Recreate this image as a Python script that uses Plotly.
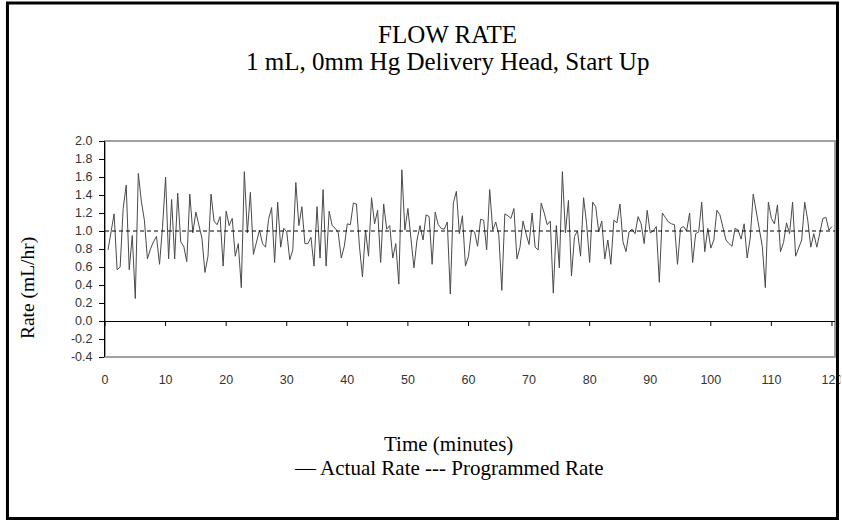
import plotly.graph_objects as go

# Flow rate readings, one every half minute (mL/hr)
actual_rate = [
    0.79, 0.97, 1.19, 0.57, 0.60, 1.25, 1.51, 0.57, 0.95, 0.25, 1.64, 1.33, 1.12, 0.69, 0.80, 0.88, 0.94, 0.63, 1.05, 1.60,
    0.69, 1.35, 0.69, 1.42, 0.88, 0.83, 0.66, 1.41, 0.98, 1.21, 1.08, 0.92, 0.54, 0.72, 1.41, 1.11, 1.07, 1.16, 0.61, 1.22,
    1.06, 1.14, 0.72, 0.86, 0.37, 1.66, 0.98, 1.43, 0.74, 0.87, 1.01, 0.86, 0.82, 1.13, 1.26, 0.65, 1.32, 0.82, 1.03, 0.99,
    0.68, 0.79, 1.54, 1.06, 1.27, 0.86, 0.86, 0.93, 0.61, 1.27, 0.70, 1.46, 0.61, 1.22, 1.06, 1.03, 0.98, 0.70, 0.83, 1.08,
    1.07, 1.31, 1.30, 0.83, 0.49, 1.01, 0.72, 1.37, 1.08, 1.23, 0.65, 1.30, 1.02, 1.06, 0.70, 0.86, 0.41, 1.68, 1.01, 1.25,
    0.94, 0.59, 0.90, 1.06, 0.90, 1.18, 1.16, 0.63, 1.21, 1.07, 1.03, 1.02, 1.10, 0.30, 1.31, 1.44, 0.97, 1.17, 0.61, 0.72,
    1.01, 0.99, 0.83, 1.13, 1.12, 0.79, 1.46, 1.01, 1.10, 0.96, 0.34, 1.19, 1.17, 1.14, 1.25, 0.69, 0.82, 1.11, 0.97, 0.85,
    1.20, 0.82, 0.79, 1.31, 1.20, 1.07, 1.11, 0.31, 1.06, 0.59, 1.66, 0.98, 1.34, 0.50, 0.94, 1.00, 0.72, 1.37, 1.08, 0.65,
    1.32, 1.27, 0.99, 1.11, 0.69, 0.90, 0.63, 1.12, 1.09, 1.30, 0.88, 0.77, 0.99, 1.02, 0.97, 1.16, 1.08, 0.86, 1.23, 0.98,
    1.00, 1.05, 0.43, 1.20, 1.15, 1.10, 1.08, 1.07, 0.63, 1.03, 1.05, 1.00, 1.20, 0.65, 0.97, 0.99, 1.32, 0.77, 1.03, 0.81,
    0.90, 1.23, 1.18, 1.05, 0.90, 0.86, 0.83, 1.03, 1.01, 0.91, 1.08, 0.70, 0.92, 1.41, 1.23, 1.05, 0.83, 0.37, 1.32, 1.14,
    1.08, 1.29, 0.77, 0.87, 1.09, 0.97, 1.32, 0.72, 0.80, 0.90, 1.32, 1.12, 0.82, 0.97, 0.82, 0.97, 1.14, 1.15, 1.01, 1.05,
]
times = [0.5 * (i + 1) for i in range(len(actual_rate))]
programmed_rate = 1.0

x_ticks = [0, 10, 20, 30, 40, 50, 60, 70, 80, 90, 100, 110, 120]
y_ticks = [-0.4, -0.2, 0.0, 0.2, 0.4, 0.6, 0.8, 1.0, 1.2, 1.4, 1.6, 1.8, 2.0]
y_tick_text = ["%.1f" % v for v in y_ticks]

serif = "Liberation Serif, Times New Roman, serif"
sans = "Liberation Sans, Arial, sans-serif"

fig = go.Figure()
fig.add_trace(go.Scatter(x=times, y=actual_rate, mode="lines",
                         line=dict(color="#4a4a4a", width=1), showlegend=False))
fig.add_hline(y=programmed_rate, line=dict(color="black", width=1, dash="4px,3px"))

# plot frame (gray), outer border (black)
fig.add_shape(type="rect", xref="paper", yref="paper", x0=0, x1=1, y0=0, y1=1,
              line=dict(color="#a0a0a0", width=2), layer="below")
fig.add_shape(type="rect", xref="paper", yref="paper", x0=-0.1336, x1=1.0034, y0=-0.7477, y1=1.6389,
              line=dict(color="black", width=3))

# tick marks hanging from the zero line
for t in x_ticks:
    fig.add_shape(type="line", xref="x", yref="y", x0=t, x1=t, y0=0, y1=-0.055,
                  line=dict(color="black", width=1))

# the "120" label is cut off by the border in the original
fig.add_shape(type="rect", xref="paper", yref="paper", x0=1.0075, x1=1.03, y0=-0.2, y1=-0.03,
              line=dict(width=0), fillcolor="white", layer="above")

fig.update_layout(
    width=842, height=521,
    margin=dict(l=105, r=7, t=141, b=164),
    paper_bgcolor="white", plot_bgcolor="white",
    showlegend=False,
    xaxis=dict(range=[0, 120.5], tickvals=x_ticks, showgrid=False, zeroline=False, showline=False,
               automargin=False, ticks="outside", ticklen=11, tickcolor="rgba(0,0,0,0)",
               ticklabeloverflow="allow",
               tickfont=dict(family=sans, size=12.5, color="#333333")),
    yaxis=dict(range=[-0.4, 2.0], tickvals=y_ticks, ticktext=y_tick_text, showgrid=False,
               automargin=False, zeroline=True, zerolinecolor="black", zerolinewidth=1,
               showline=True, linecolor="black", linewidth=1,
               ticks="outside", ticklen=5, tickcolor="black", ticklabelstandoff=4,
               tickfont=dict(family=sans, size=12.5, color="#333333")),
    annotations=[
        dict(text="FLOW RATE", xref="paper", yref="paper", x=0.469, y=1.495, showarrow=False,
             xanchor="center", yanchor="middle", font=dict(family=serif, size=25, color="black")),
        dict(text="1 mL, 0mm Hg Delivery Head, Start Up", xref="paper", yref="paper", x=0.469, y=1.368,
             showarrow=False, xanchor="center", yanchor="middle", font=dict(family=serif, size=25, color="black")),
        dict(text="Rate (mL/hr)", xref="paper", yref="paper", x=-0.1055, y=0.319, textangle=-90,
             showarrow=False, xanchor="center", yanchor="middle", font=dict(family=serif, size=19.5, color="black")),
        dict(text="Time (minutes)", xref="paper", yref="paper", x=0.471, y=-0.405, showarrow=False,
             xanchor="center", yanchor="middle", font=dict(family=serif, size=21, color="black")),
        dict(text="— Actual Rate --- Programmed Rate", xref="paper", yref="paper", x=0.471, y=-0.515,
             showarrow=False, xanchor="center", yanchor="middle", font=dict(family=serif, size=21, color="black")),
    ],
)

# no page margin and no scrolling, so the 842x521 figure fills the window exactly
page_css = ("document.body.style.margin='0';"
            "document.body.style.overflow='hidden';"
            "document.documentElement.style.overflow='hidden';")
fig.write_html("out.html", config={"displayModeBar": False}, post_script=page_css)
